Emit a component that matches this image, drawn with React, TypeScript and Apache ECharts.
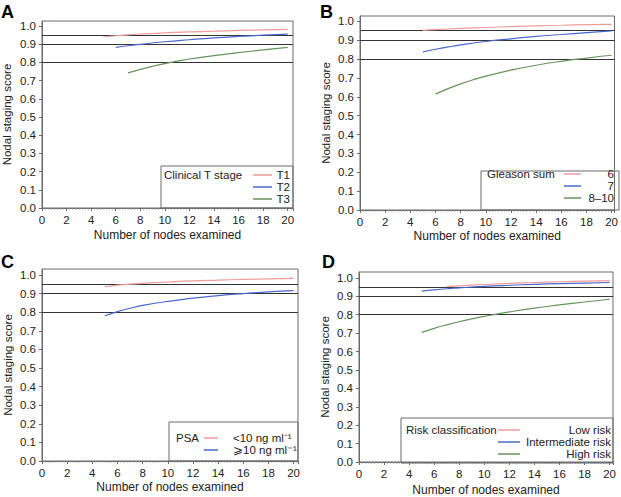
import React, { useEffect, useRef } from "react";
import * as echarts from "echarts";

// ---- data ----
const referenceLevels = [0.95, 0.9, 0.8];
const xTickLabels = ["0", "2", "4", "6", "8", "10", "12", "14", "16", "18", "20"];
const lineColors = ["#ee9c9c", "#4a68cc", "#64955a"];

// Panel A: Clinical T stage
const aNames = ["T1", "T2", "T3"];
const aT1x = [5, 6, 7, 8, 10, 12, 14, 16, 18, 20];
const aT1y = [0.94, 0.947, 0.952, 0.956, 0.963, 0.968, 0.972, 0.976, 0.979, 0.982];
const aT2x = [6, 7, 8, 10, 12, 14, 16, 18, 20];
const aT2y = [0.883, 0.892, 0.9, 0.914, 0.925, 0.935, 0.943, 0.95, 0.956];
const aT3x = [7, 8, 9, 10, 11, 12, 14, 16, 18, 20];
const aT3y = [0.743, 0.762, 0.779, 0.794, 0.807, 0.819, 0.838, 0.854, 0.869, 0.883];

// Panel B: Gleason sum
const bNames = ["6", "7", "8–10"];
const bG6x = [5, 6, 8, 10, 12, 14, 16, 18, 20];
const bG6y = [0.952, 0.956, 0.962, 0.967, 0.972, 0.976, 0.979, 0.982, 0.984];
const bG7x = [5, 6, 7, 8, 10, 12, 14, 16, 18, 20];
const bG7y = [0.838, 0.852, 0.864, 0.875, 0.893, 0.907, 0.92, 0.93, 0.94, 0.949];
const bG8x = [6, 7, 8, 9, 10, 12, 14, 16, 18, 20];
const bG8y = [0.614, 0.643, 0.668, 0.69, 0.709, 0.741, 0.767, 0.788, 0.805, 0.82];

// Panel C: PSA
const cNames = ["<10 ng ml⁻¹", "⩾10 ng ml⁻¹"];
const cLowx = [5, 6, 7, 8, 10, 12, 14, 16, 18, 20];
const cLowy = [0.937, 0.945, 0.951, 0.955, 0.962, 0.968, 0.972, 0.976, 0.979, 0.982];
const cHighx = [5, 6, 7, 8, 10, 12, 14, 16, 18, 20];
const cHighy = [0.781, 0.803, 0.821, 0.836, 0.858, 0.875, 0.889, 0.9, 0.909, 0.916];

// Panel D: Risk classification
const dNames = ["Low risk", "Intermediate risk", "High risk"];
const dLowx = [7, 8, 10, 12, 14, 16, 18, 20];
const dLowy = [0.953, 0.957, 0.964, 0.97, 0.975, 0.979, 0.982, 0.985];
const dMidx = [5, 6, 7, 8, 10, 12, 14, 16, 18, 20];
const dMidy = [0.928, 0.935, 0.941, 0.946, 0.954, 0.96, 0.965, 0.969, 0.972, 0.975];
const dHighx = [5, 6, 7, 8, 9, 10, 12, 14, 16, 18, 20];
const dHighy = [0.704, 0.726, 0.745, 0.762, 0.777, 0.791, 0.815, 0.836, 0.853, 0.869, 0.884];

const zip = (xs: number[], ys: number[]) => xs.map((x, i) => [x, ys[i]]);

const FONT = "Liberation Sans, Arial, Helvetica, sans-serif";

type PanelDef = {
  letter: string;
  letterPos: [number, number];
  grid: { left: number; top: number; width: number; height: number };
  xMax: number;
  yMax: number;
  xNameGap: number;
  yNameGap: number;
  series: { name: string; data: number[][]; color: string }[];
  legendTitle: string;
  legendBox: [number, number, number, number];
  legendTitlePos: [number, number];
  legendLeft: number;
  legendTop: number;
  legendItemWidth: number;
  legendRow: number;
  legendTextWidth: number;
  legendTextAlign: "left" | "right";
  legendTextPad: number;
};

const panels: PanelDef[] = [
  {
    letter: "A",
    letterPos: [1, 3],
    grid: { left: 42, top: 21, width: 251, height: 187 },
    xMax: 20.43,
    yMax: 1.028,
    xNameGap: 21,
    yNameGap: 29,
    series: [
      { name: aNames[0], data: zip(aT1x, aT1y), color: lineColors[0] },
      { name: aNames[1], data: zip(aT2x, aT2y), color: lineColors[1] },
      { name: aNames[2], data: zip(aT3x, aT3y), color: lineColors[2] },
    ],
    legendTitle: "Clinical T stage",
    legendBox: [161, 166, 132, 42],
    legendTitlePos: [164, 175],
    legendLeft: 253,
    legendTop: 169,
    legendItemWidth: 19,
    legendRow: 12,
    legendTextWidth: 13,
    legendTextAlign: "right",
    legendTextPad: 0,
  },
  {
    letter: "B",
    letterPos: [320, 3],
    grid: { left: 360, top: 16, width: 259, height: 194 },
    xMax: 20.23,
    yMax: 1.028,
    xNameGap: 20,
    yNameGap: 28,
    series: [
      { name: bNames[0], data: zip(bG6x, bG6y), color: lineColors[0] },
      { name: bNames[1], data: zip(bG7x, bG7y), color: lineColors[1] },
      { name: bNames[2], data: zip(bG8x, bG8y), color: lineColors[2] },
    ],
    legendTitle: "Gleason sum",
    legendBox: [481, 171, 138, 39],
    legendTitlePos: [487, 174],
    legendLeft: 564,
    legendTop: 168,
    legendItemWidth: 17,
    legendRow: 12,
    legendTextWidth: 28,
    legendTextAlign: "right",
    legendTextPad: 0,
  },
  {
    letter: "C",
    letterPos: [1, 253],
    grid: { left: 42, top: 269, width: 256, height: 192 },
    xMax: 20.35,
    yMax: 1.032,
    xNameGap: 20,
    yNameGap: 28,
    series: [
      { name: cNames[0], data: zip(cLowx, cLowy), color: lineColors[0] },
      { name: cNames[1], data: zip(cHighx, cHighy), color: lineColors[1] },
    ],
    legendTitle: "PSA",
    legendBox: [169, 422, 129, 39],
    legendTitlePos: [176, 438],
    legendLeft: 204,
    legendTop: 432,
    legendItemWidth: 14,
    legendRow: 10,
    legendTextWidth: 62,
    legendTextAlign: "left",
    legendTextPad: 10,
  },
  {
    letter: "D",
    letterPos: [322, 253],
    grid: { left: 359, top: 272, width: 254, height: 191 },
    xMax: 20.27,
    yMax: 1.032,
    xNameGap: 22,
    yNameGap: 28,
    series: [
      { name: dNames[0], data: zip(dLowx, dLowy), color: lineColors[0] },
      { name: dNames[1], data: zip(dMidx, dMidy), color: lineColors[1] },
      { name: dNames[2], data: zip(dHighx, dHighy), color: lineColors[2] },
    ],
    legendTitle: "Risk classification",
    legendBox: [401, 418, 212, 45],
    legendTitlePos: [406, 430],
    legendLeft: 498,
    legendTop: 424,
    legendItemWidth: 22,
    legendRow: 12,
    legendTextWidth: 86,
    legendTextAlign: "right",
    legendTextPad: 0,
  },
];

function buildOption() {
  const grid: any[] = [];
  const xAxis: any[] = [];
  const yAxis: any[] = [];
  const series: any[] = [];
  const legend: any[] = [];
  const graphic: any[] = [];

  panels.forEach((p, i) => {
    grid.push({
      ...p.grid,
      show: true,
      borderColor: "#6a6a6a",
      borderWidth: 1,
      backgroundColor: "transparent",
    });
    xAxis.push({
      type: "value",
      gridIndex: i,
      min: 0,
      max: p.xMax,
      interval: 2,
      name: "Number of nodes examined",
      nameLocation: "middle",
      nameGap: p.xNameGap,
      nameTextStyle: { fontSize: 12, color: "#222", fontFamily: FONT },
      axisLine: { show: true, lineStyle: { color: "#6a6a6a", width: 1 } },
      axisTick: { show: true, length: 3, lineStyle: { color: "#6a6a6a" } },
      minorTick: { show: true, splitNumber: 8, length: 1.5, lineStyle: { color: "#888" } },
      splitLine: { show: false },
      axisLabel: {
        showMaxLabel: false,
        fontSize: 11.5,
        color: "#222",
        fontFamily: FONT,
        margin: 6,
        formatter: (v: number) => {
          const idx = Math.round(v / 2);
          return Math.abs(v - idx * 2) < 1e-6 && xTickLabels[idx] !== undefined ? xTickLabels[idx] : "";
        },
      },
    });
    yAxis.push({
      type: "value",
      gridIndex: i,
      min: 0,
      max: p.yMax,
      interval: 0.1,
      name: "Nodal staging score",
      nameLocation: "middle",
      nameGap: p.yNameGap,
      nameTextStyle: { fontSize: 11.5, color: "#222", fontFamily: FONT },
      axisLine: { show: true, lineStyle: { color: "#6a6a6a", width: 1 } },
      axisTick: { show: true, length: 3, lineStyle: { color: "#6a6a6a" } },
      splitLine: { show: false },
      axisLabel: {
        showMaxLabel: false,
        fontSize: 11.5,
        color: "#222",
        fontFamily: FONT,
        margin: 6,
        formatter: (v: number) => v.toFixed(1),
      },
    });
    p.series.forEach((s, k) => {
      series.push({
        type: "line",
        name: s.name,
        xAxisIndex: i,
        yAxisIndex: i,
        data: s.data,
        smooth: true,
        showSymbol: false,
        color: s.color,
        lineStyle: { color: s.color, width: 1.2 },
        z: 3,
        markLine:
          k === 0
            ? {
                silent: true,
                symbol: ["none", "none"],
                label: { show: false },
                lineStyle: { color: "#333", type: "solid", width: 1 },
                z: 2,
                data: referenceLevels.map((v) => ({ yAxis: v })),
              }
            : undefined,
      });
    });
    legend.push({
      data: p.series.map((s) => s.name),
      orient: "vertical",
      left: p.legendLeft,
      top: p.legendTop,
      padding: 0,
      itemGap: 0,
      itemWidth: p.legendItemWidth,
      itemHeight: 1.5,
      icon: "rect",
      selectedMode: false,
      formatter: (n: string) => `{r|${n}}`,
      textStyle: {
        fontSize: 11.5,
        color: "#222",
        fontFamily: FONT,
        rich: {
          r: {
            width: p.legendTextWidth,
            align: p.legendTextAlign,
            fontSize: 11.5,
            lineHeight: p.legendRow,
            color: "#222",
            fontFamily: FONT,
            padding: [0, 0, 0, p.legendTextPad],
          },
        },
      },
    });
    const [bx, by, bw, bh] = p.legendBox;
    graphic.push({
      type: "rect",
      shape: { x: bx, y: by, width: bw, height: bh },
      style: { fill: "none", stroke: "#6a6a6a", lineWidth: 1 },
      silent: true,
      z: 1,
    });
    graphic.push({
      type: "text",
      x: p.legendTitlePos[0],
      y: p.legendTitlePos[1],
      style: {
        text: p.legendTitle,
        fontSize: 11.5,
        fill: "#222",
        fontFamily: FONT,
        verticalAlign: "middle",
        align: "left",
      },
    });
    graphic.push({
      type: "text",
      x: p.letterPos[0],
      y: p.letterPos[1],
      style: {
        text: p.letter,
        fontSize: 18,
        fontWeight: "bold",
        fill: "#000",
        fontFamily: FONT,
      },
    });
  });

  return {
    animation: false,
    backgroundColor: "#fff",
    textStyle: { fontFamily: FONT },
    grid,
    xAxis,
    yAxis,
    series,
    legend,
    graphic,
  };
}

export default function App() {
  const ref = useRef<HTMLDivElement>(null);
  useEffect(() => {
    if (!ref.current) return;
    const chart = echarts.init(ref.current, undefined, { renderer: "svg" });
    chart.setOption(buildOption() as any);
    return () => chart.dispose();
  }, []);
  return (
    <div
      ref={ref}
      style={{ position: "absolute", left: 0, top: 0, width: 621, height: 497 }}
    />
  );
}
